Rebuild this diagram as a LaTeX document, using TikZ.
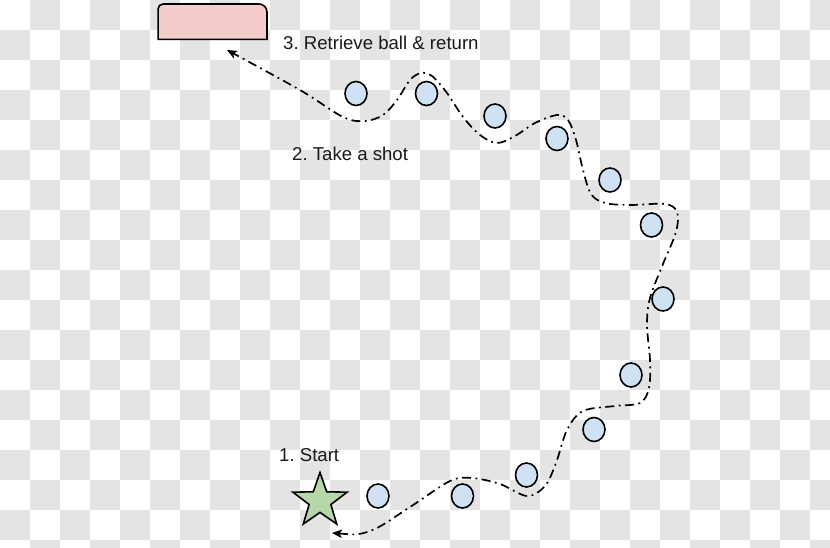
\documentclass[tikz,border=0pt]{standalone}
\usepackage{fontspec}
\setmainfont{Liberation Sans}
\usetikzlibrary{shapes.geometric,arrows.meta}
\definecolor{chk}{RGB}{228,228,228}
\definecolor{ballfill}{RGB}{207,226,243}
\definecolor{goalfill}{RGB}{244,204,204}
\definecolor{starfill}{RGB}{182,215,168}
\definecolor{txt}{RGB}{25,25,25}
\tikzset{
  ball/.style={ellipse, draw=black, line width=1.6pt, fill=ballfill, minimum width=22pt, minimum height=24pt, inner sep=0pt},
  lbl/.style={anchor=base west, inner sep=0pt, text=txt, font=\fontsize{18.6}{21}\selectfont\frenchspacing},
  route/.style={line width=1.7pt, dash pattern=on 9pt off 4.5pt on 1.8pt off 4.5pt, {Stealth[length=10pt,width=8.5pt,inset=2.5pt]}-{Stealth[length=10pt,width=8.5pt,inset=2.5pt]}},
  goalbox/.style={draw=black, line width=1.6pt, fill=goalfill},
  startstar/.style={star, star points=5, star point ratio=2.5, draw=black, line width=1.6pt, fill=starfill, minimum size=57pt, inner sep=0pt}
}
\begin{document}
\begin{tikzpicture}[x=1pt,y=-1pt]
\useasboundingbox (0,0) rectangle (830,548);
\begin{scope}
\clip (0,0) rectangle (830,548);
\fill[white] (0,0) rectangle (830,548);
\foreach \i in {0,...,27}{
  \foreach \j in {0,...,18}{
    \pgfmathtruncatemacro\odd{mod(\i+\j,2)}
    \ifnum\odd=1 \fill[chk] (\i*30,\j*30) rectangle ++(30,30);\fi
  }
}
\end{scope}

% goal box
\node (goal) [minimum width=108.5pt, minimum height=35pt, inner sep=0pt] at (212.5,21.7) {};
\draw[goalbox] (goal.south west) [rounded corners=5pt] -- (goal.north west) [rounded corners=8pt] -- (goal.north east) [sharp corners] -- (goal.south east) -- cycle;

% labels
\node[lbl] (l3) at (283,50) {3. Retrieve ball \& return};
\node[lbl] (l2) at (292,161) {2. Take a shot};
\node[lbl] (l1) at (279,461) {1. Start};

% start star
\node[startstar] (start) at (320,501) {};

% balls
\node[ball] (b1) at (356,93.5) {};
\node[ball] (b2) at (426.5,93.5) {};
\node[ball] (b3) at (495,116) {};
\node[ball] (b4) at (557,138.5) {};
\node[ball] (b5) at (610,180) {};
\node[ball] (b6) at (651.5,225) {};
\node[ball] (b7) at (663,299) {};
\node[ball] (b8) at (631,375) {};
\node[ball] (b9) at (594,429.5) {};
\node[ball] (b10) at (526.5,475) {};
\node[ball] (b11) at (462.5,496) {};
\node[ball] (b12) at (378,496) {};

% route
\coordinate (routeA) at (332,533);
\coordinate (routeB) at (227,50);
\draw[route] plot[smooth, tension=0.55] coordinates {
 (routeA) (370,531) (410,507) (450,481) (472,478) (500,484) (527,496) (545,486)
 (556,463) (567,430) (583,411) (615,406) (640,403) (649,388) (650,360) (647,325)
 (650,298) (663,264) (676,232) (677,212) (665,204) (630,205) (605,203) (591,194)
 (583,170) (576,140) (568,120) (557,115) (535,123) (515,136) (497,143) (480,135)
 (463,117) (447,93) (432,76) (421,73) (410,80) (397,100) (383,115) (365,121)
 (343,117) (300,90) (routeB)};
\end{tikzpicture}
\end{document}
